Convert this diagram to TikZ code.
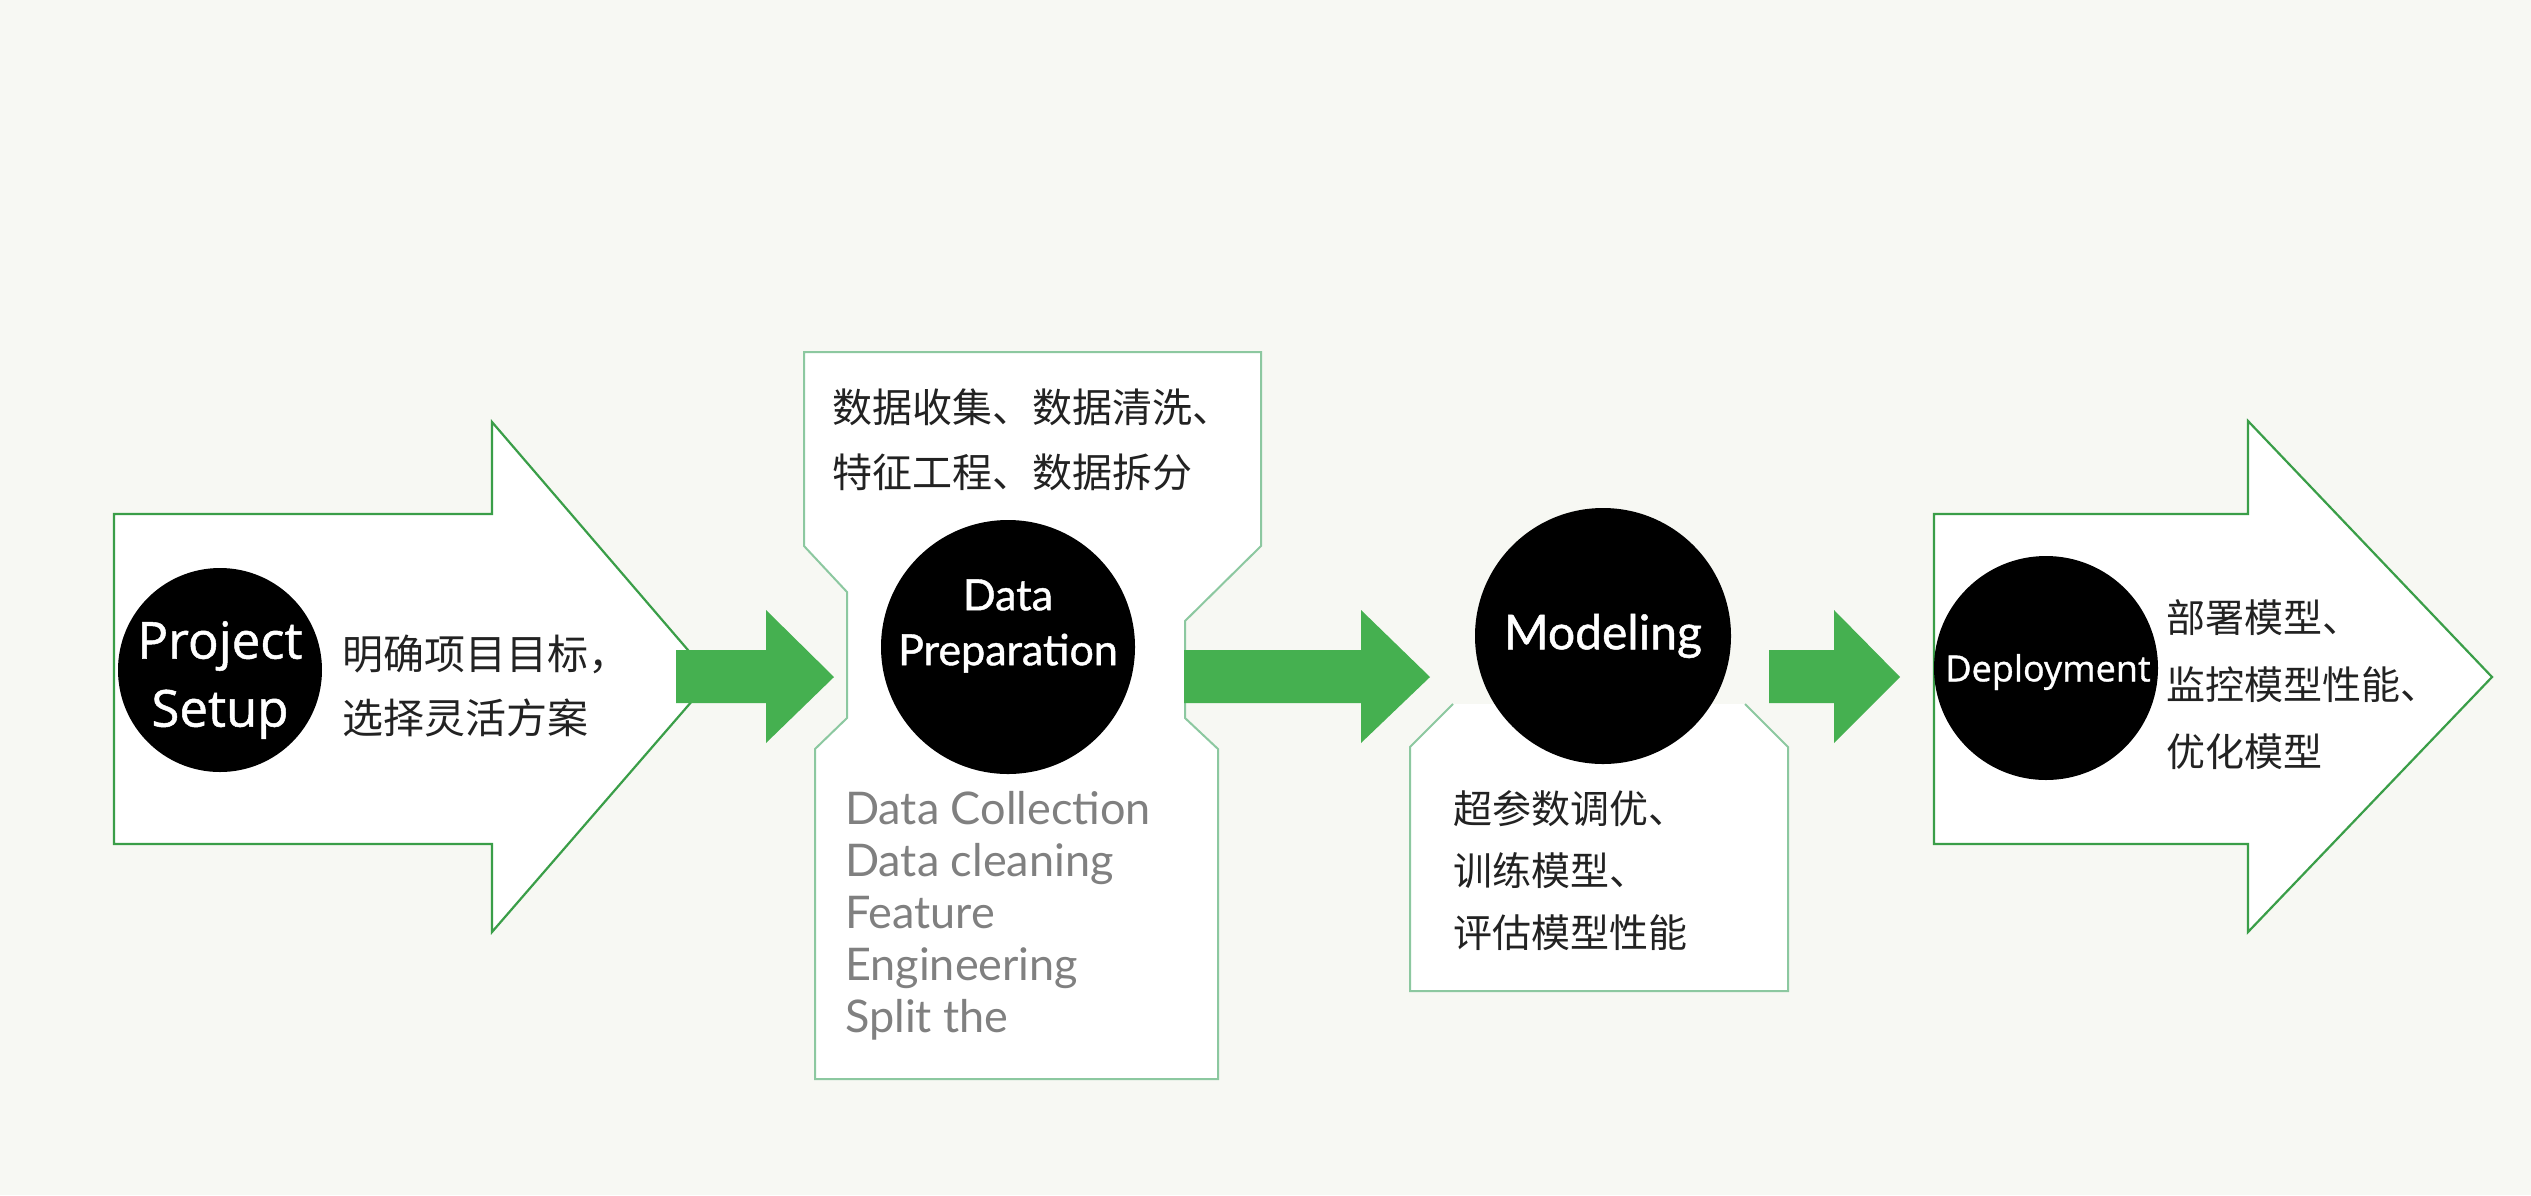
\documentclass[tikz,border=0pt]{standalone}
\usepackage{fontspec}
\setmainfont{Lato}
\newfontfamily\latomid[FakeBold=1]{Lato}
\newfontfamily\osans[FakeBold=1]{Open Sans}
\newfontfamily\cjk{Noto Sans CJK SC}
\definecolor{bgc}{HTML}{F7F8F3}
\definecolor{arrline}{HTML}{3A9E48}
\definecolor{boxline}{HTML}{8CC8A0}
\definecolor{gfill}{HTML}{45B050}
\definecolor{cjktext}{HTML}{222222}
\definecolor{graytext}{HTML}{808080}
\begin{document}
\begin{tikzpicture}[x=1pt,y=-1pt,
  bigarrow/.style={draw=arrline,line width=2.2pt,fill=white,line join=miter},
  stagebox/.style={draw=boxline,line width=2pt,fill=white},
  flowarrow/.style={fill=gfill,draw=none},
  stage/.style={circle,fill=black,inner sep=0pt},
  ctext/.style={text=white,align=center,inner sep=0pt},
  zh/.style={text=cjktext,align=left,anchor=west,inner sep=0pt}]
\fill[bgc] (0,0) rectangle (2531,1195);
\useasboundingbox (0,0) rectangle (2531,1195);

% big outline arrows
\draw[bigarrow] (114,514) -- (492,514) -- (492,422) -- (712,678) -- (492,932) -- (492,844) -- (114,844) -- cycle;
\draw[bigarrow] (1934,514) -- (2248,514) -- (2248,421) -- (2492,677) -- (2248,932) -- (2248,844) -- (1934,844) -- cycle;

% data preparation box
\draw[stagebox] (804,352) -- (1261,352) -- (1261,546) -- (1185,621) -- (1185,718) -- (1218,749) -- (1218,1079) -- (815,1079) -- (815,749) -- (847,718) -- (847,592) -- (804,546) -- cycle;

% modeling box
\fill[white] (1453,704) -- (1410,747) -- (1410,991) -- (1788,991) -- (1788,747) -- (1745,704) -- cycle;
\draw[boxline,line width=2pt] (1453,704) -- (1410,747) -- (1410,991) -- (1788,991) -- (1788,747) -- (1745,704);

% green flow arrows
\fill[flowarrow] (676,650) -- (766,650) -- (766,610) -- (834,677) -- (766,743) -- (766,703) -- (676,703) -- cycle;
\fill[flowarrow] (1184,650) -- (1361,650) -- (1361,610) -- (1430,677) -- (1361,743) -- (1361,703) -- (1184,703) -- cycle;
\fill[flowarrow] (1769,650) -- (1834,650) -- (1834,610) -- (1900,677) -- (1834,743) -- (1834,703) -- (1769,703) -- cycle;

% stage circles
\node[stage,minimum size=204pt] (setup) at (220,670) {};
\node[stage,minimum size=254pt] (prep) at (1008,647) {};
\node[stage,minimum size=256pt] (model) at (1603,636) {};
\node[stage,minimum size=224pt] (deploy) at (2046,668) {};

\node[ctext,font=\osans\fontsize{51}{68}\selectfont] (setupt) at (220,680) {Project\\Setup};
\node[ctext,font=\latomid\fontsize{43}{55}\selectfont] (prept) at (1008,626) {Data\\Preparation};
\node[ctext,font=\latomid\fontsize{48}{58}\selectfont] (modelt) at (1603,636) {Modeling};
\node[ctext,font=\osans\fontsize{36}{44}\selectfont] (deployt) at (2048,672) {Deployment};

% texts
\node[zh,font=\cjk\fontsize{41}{64}\selectfont] (setupzh) at (342,686) {明确项目目标，\\选择灵活方案};
\node[zh,font=\cjk\fontsize{40}{65}\selectfont] (prepzh) at (832,440) {数据收集、数据清洗、\\特征工程、数据拆分};
\node[zh,text=graytext,font=\fontsize{45}{52}\selectfont] (prepen) at (845,916) {Data Collection\\Data cleaning\\Feature\\Engineering\\Split the};
\node[zh,font=\cjk\fontsize{39}{62}\selectfont] (modelzh) at (1453,871) {超参数调优、\\训练模型、\\评估模型性能};
\node[zh,font=\cjk\fontsize{39}{67}\selectfont] (deployzh) at (2166,685) {部署模型、\\监控模型性能、\\优化模型};
\end{tikzpicture}
\end{document}
